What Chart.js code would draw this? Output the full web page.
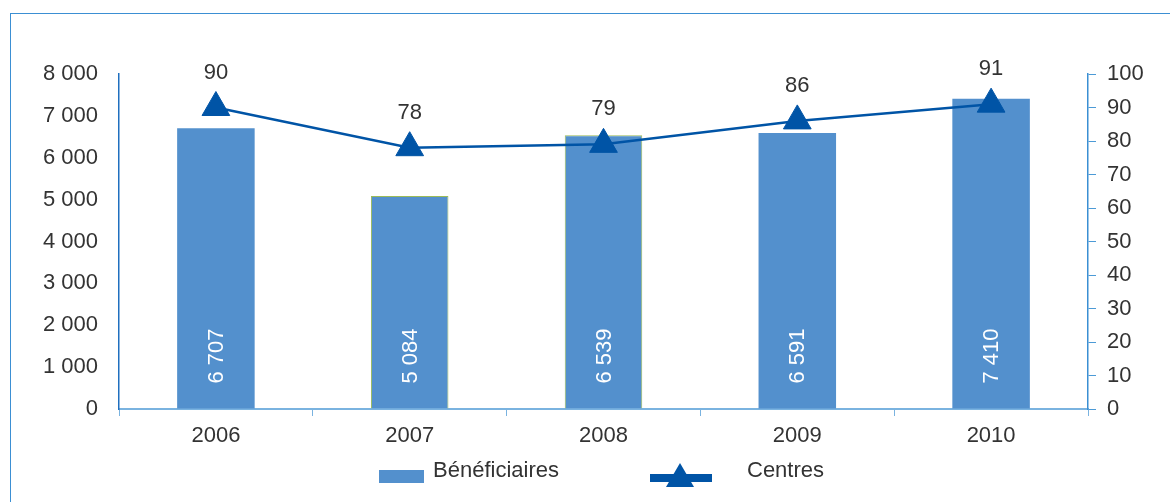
<!DOCTYPE html>
<html>
<head>
<meta charset="utf-8">
<script src="https://cdn.jsdelivr.net/npm/chart.js@4"></script>
<style>
  body { margin: 0; background: #fff; font-family: "Liberation Sans", Arial, sans-serif; color: #333; }
  #wrap { position: relative; width: 1170px; height: 502px; overflow: hidden; }
  #frame { position: absolute; left: 10px; top: 13px; width: 1200px; height: 600px;
           border-top: 1px solid #3b8fd3; border-left: 1px solid #3b8fd3; }
  canvas { position: absolute; left: 0; top: 0; }
  .lg { position: absolute; }
  .lgText { position: absolute; font-size: 22px; line-height: 22px; top: 459px; }
</style>
</head>
<body>
<div id="wrap">
  <div id="frame"></div>
  <canvas id="chart" width="1170" height="502"></canvas>
  <div class="lg" style="left:379px;top:470px;width:45px;height:13px;background:#5390cd"></div>
  <div class="lgText" style="left:433px">Bénéficiaires</div>
  <div class="lg" style="left:650px;top:474px;width:62px;height:8px;background:#0054a6"></div>
  <div class="lg" style="left:666px;top:463px;width:0;height:0;border-left:14px solid transparent;border-right:14px solid transparent;border-bottom:24px solid #0054a6"></div>
  <div class="lgText" style="left:747px">Centres</div>
</div>
<script>
// data
var years = ['2006', '2007', '2008', '2009', '2010'];
var beneficiaires = [6707, 5084, 6539, 6591, 7410];
var centres = [90, 78, 79, 86, 91];

var fontName = '"Liberation Sans", Arial, sans-serif';

function withSpaces(v) {
    return String(v).replace(/\B(?=(\d{3})+(?!\d))/g, ' ');
}

// labels inside the bars and above the triangles
var valueLabels = {
    id: 'valueLabels',
    afterDatasetsDraw: function (chart) {
        var ctx = chart.ctx;
        ctx.save();
        ctx.font = '22px ' + fontName;
        chart.getDatasetMeta(0).data.forEach(function (bar, i) {
            ctx.save();
            ctx.translate(bar.x, bar.base - 25);
            ctx.rotate(-Math.PI / 2);
            ctx.textAlign = 'left';
            ctx.textBaseline = 'middle';
            ctx.fillStyle = '#ffffff';
            ctx.fillText(withSpaces(beneficiaires[i]), 0, 1);
            ctx.restore();
        });
        ctx.fillStyle = '#333333';
        ctx.textAlign = 'center';
        ctx.textBaseline = 'middle';
        chart.getDatasetMeta(1).data.forEach(function (pt, i) {
            ctx.fillText(centres[i], pt.x, pt.y - 35);
        });
        ctx.restore();
    }
};

new Chart(document.getElementById('chart').getContext('2d'), {
    data: {
        labels: years,
        datasets: [{
            type: 'bar',
            label: 'Bénéficiaires',
            data: beneficiaires,
            yAxisID: 'y',
            backgroundColor: '#5390cd',
            borderColor: ['#5390cd', '#9bbb59', '#9bbb59', '#5390cd', '#5390cd'],
            borderWidth: [0, 1, 1, 0, 0],
            barPercentage: 0.4,
            categoryPercentage: 1,
            order: 2
        }, {
            type: 'line',
            label: 'Centres',
            data: centres,
            yAxisID: 'y1',
            borderColor: '#0054a6',
            borderWidth: 2.5,
            backgroundColor: '#0054a6',
            pointStyle: 'triangle',
            pointRadius: 16,
            pointBorderWidth: 1,
            pointBackgroundColor: '#0054a6',
            pointBorderColor: '#0054a6',
            tension: 0,
            order: 1
        }]
    },
    options: {
        responsive: false,
        animation: false,
        layout: { padding: { top: 74, bottom: 43, left: 0, right: 0 } },
        plugins: {
            legend: { display: false },
            tooltip: { enabled: false }
        },
        scales: {
            x: {
                grid: { offset: true, drawOnChartArea: false, tickLength: 7, color: '#7ab3e0' },
                border: { color: '#7ab3e0', width: 2 },
                ticks: { color: '#333', padding: 7, font: { family: fontName, size: 22 } },
                afterFit: function (s) { s.height = 50; }
            },
            y: {
                position: 'left',
                min: 0,
                max: 8000,
                grid: { drawOnChartArea: false, drawTicks: false },
                border: { color: '#1f6fbf', width: 1.5 },
                ticks: {
                    stepSize: 1000,
                    padding: 21,
                    color: '#333',
                    font: { family: fontName, size: 22 },
                    callback: function (v) { return withSpaces(v); }
                },
                afterFit: function (s) { s.width = 119; }
            },
            y1: {
                position: 'right',
                min: 0,
                max: 100,
                grid: { drawOnChartArea: false, tickLength: 8, color: '#4c9ad6' },
                border: { color: '#3b8fd3', width: 1.5 },
                ticks: {
                    stepSize: 10,
                    padding: 11,
                    color: '#333',
                    font: { family: fontName, size: 22 }
                },
                afterFit: function (s) { s.width = 82; }
            }
        }
    },
    plugins: [valueLabels]
});
</script>
</body>
</html>
